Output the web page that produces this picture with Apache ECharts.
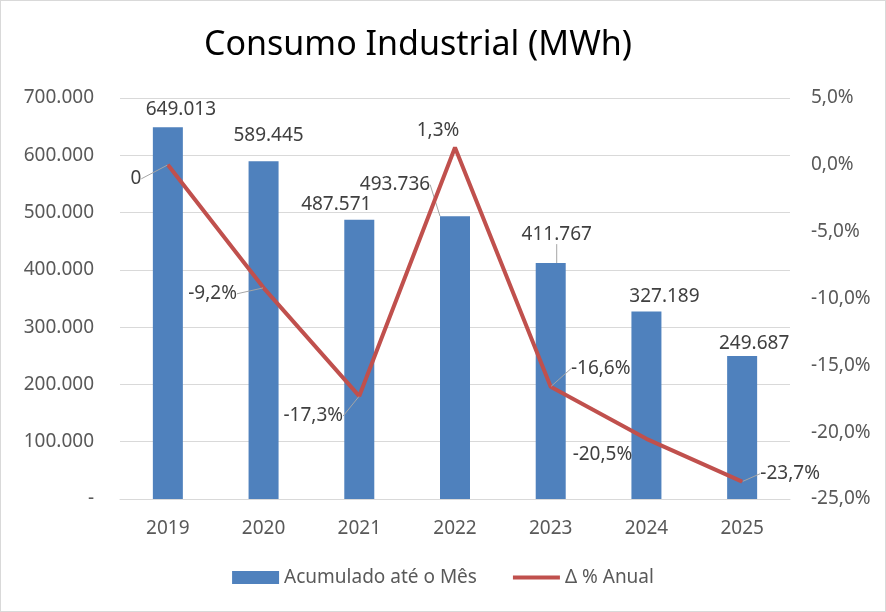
<!DOCTYPE html>
<html>
<head>
<meta charset="utf-8">
<script src="https://cdn.jsdelivr.net/npm/echarts@6/dist/echarts.min.js"></script>
<style>
  html, body { margin: 0; padding: 0; background: #fff; }
  #main { width: 884px; height: 610px; border: 1px solid #D9D9D9; }
</style>
</head>
<body>
<div id="main"></div>
<script>
// dados do gráfico
var anos = ['2019', '2020', '2021', '2022', '2023', '2024', '2025'];
var acumulado = [649013, 589445, 487571, 493736, 411767, 327189, 249687];
var variacao = [0, -9.2, -17.3, 1.3, -16.6, -20.5, -23.7];

// deslocamento dos rótulos (como no Excel) e linhas de chamada
var offBarras = [[13, -3], [5, -11], [-23, -1], [-60, -17], [6, -14], [18, 0], [12, 2]];
var guiaBarras = [false, false, false, true, true, false, false];
var offLinha = [[-32, 14], [-51, 6], [-46, 20], [-17, -17], [50, -18], [-44, 16], [48, -8]];
var guiaLinha = [true, true, true, false, true, false, true];

var fonte = '"Noto Sans", sans-serif';
var cinza = '#595959';
var guia = { color: '#A5A5A5', width: 1 };

function milhar(v) {
  return String(v).replace(/\B(?=(\d{3})+(?!\d))/g, '.');
}

var myChart = echarts.init(document.getElementById('main'));
myChart.setOption({
  animation: false,
  textStyle: { fontFamily: fonte },
  title: {
    text: 'Consumo Industrial (MWh)',
    left: 198,
    top: 22,
    textStyle: { fontSize: 34, fontWeight: 'normal', color: '#000', fontFamily: fonte }
  },
  grid: { left: 119, right: 95, top: 97, bottom: 112 },
  legend: {
    bottom: 19,
    left: 'center',
    itemWidth: 47,
    itemHeight: 13,
    itemGap: 34,
    textStyle: { fontSize: 19, color: cinza, fontFamily: fonte },
    data: [
      { name: 'Acumulado até o Mês', icon: 'rect' },
      { name: 'Δ % Anual', itemStyle: { opacity: 0 }, lineStyle: { width: 4, color: '#C0504D' } }
    ]
  },
  xAxis: {
    type: 'category',
    data: anos,
    axisLine: { lineStyle: { color: '#D9D9D9' } },
    axisTick: { show: false },
    axisLabel: { color: cinza, fontSize: 19, margin: 20 }
  },
  yAxis: [
    {
      type: 'value',
      min: 0,
      max: 700000,
      interval: 100000,
      axisLine: { show: false },
      axisTick: { show: false },
      splitLine: { lineStyle: { color: '#D9D9D9' } },
      axisLabel: {
        color: cinza, fontSize: 19, margin: 26,
        formatter: function (v) { return v === 0 ? '-' : milhar(v); }
      }
    },
    {
      type: 'value',
      min: -25,
      max: 5,
      interval: 5,
      axisLine: { show: false },
      axisTick: { show: false },
      splitLine: { show: false },
      axisLabel: {
        color: cinza, fontSize: 19, margin: 21,
        formatter: function (v) { return v.toFixed(1).replace('.', ',') + '%'; }
      }
    }
  ],
  series: [
    {
      name: 'Acumulado até o Mês',
      type: 'bar',
      data: acumulado.map(function (v, i) {
        return { value: v, labelLine: { show: guiaBarras[i], lineStyle: guia } };
      }),
      barWidth: 30,
      itemStyle: { color: '#4F81BD' },
      label: {
        show: true,
        position: 'top',
        distance: 5,
        color: '#404040',
        fontSize: 19,
        fontFamily: fonte,
        formatter: function (p) { return milhar(p.value); }
      },
      labelLayout: function (p) {
        var o = offBarras[p.dataIndex];
        return { dx: o[0], dy: o[1] };
      }
    },
    {
      name: 'Δ % Anual',
      type: 'line',
      yAxisIndex: 1,
      data: variacao.map(function (v, i) {
        return { value: v, labelLine: { show: guiaLinha[i], lineStyle: guia } };
      }),
      symbol: 'circle',
      symbolSize: 1,
      lineStyle: { color: '#C0504D', width: 4 },
      itemStyle: { color: '#C0504D' },
      label: {
        show: true,
        position: 'inside',
        color: '#404040',
        fontSize: 19,
        fontFamily: fonte,
        formatter: function (p) {
          return p.value === 0 ? '0' : p.value.toFixed(1).replace('.', ',') + '%';
        }
      },
      labelLayout: function (p) {
        var o = offLinha[p.dataIndex];
        return { dx: o[0], dy: o[1] };
      }
    }
  ]
});
</script>
</body>
</html>
